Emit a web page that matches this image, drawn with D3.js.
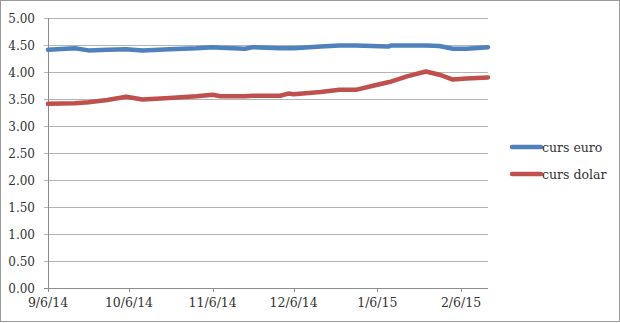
<!DOCTYPE html>
<html>
<head>
<meta charset="utf-8">
<script src="https://cdn.jsdelivr.net/npm/d3@7"></script>
<style>
  body { margin: 0; background: #fff; }
  svg text { font-family: "DejaVu Serif", serif; fill: #333; }
</style>
</head>
<body>
<div id="chart"></div>
<script>
// dates of the readings
var dates = ["2014-09-06", "2014-09-16", "2014-09-21", "2014-09-28", "2014-10-05", "2014-10-11",
  "2014-10-21", "2014-10-31", "2014-11-06", "2014-11-09", "2014-11-18", "2014-11-21",
  "2014-12-01", "2014-12-04", "2014-12-06", "2014-12-16", "2014-12-23", "2014-12-29",
  "2015-01-04", "2015-01-10", "2015-01-11", "2015-01-17", "2015-01-24", "2015-01-29",
  "2015-02-03", "2015-02-08", "2015-02-16"];

var cursEuro = [4.41, 4.44, 4.40, 4.41, 4.42, 4.40, 4.42, 4.44, 4.46, 4.45, 4.43, 4.46,
  4.44, 4.44, 4.44, 4.47, 4.49, 4.49, 4.48, 4.47, 4.49, 4.49, 4.49, 4.48,
  4.43, 4.43, 4.46];

var cursDolar = [3.41, 3.42, 3.44, 3.48, 3.54, 3.49, 3.52, 3.55, 3.58, 3.55, 3.55, 3.56,
  3.56, 3.60, 3.59, 3.63, 3.67, 3.67, 3.74, 3.81, 3.82, 3.92, 4.01, 3.95,
  3.86, 3.88, 3.90];

var xTicks = ["2014-09-06", "2014-10-06", "2014-11-06", "2014-12-06", "2015-01-06", "2015-02-06"];
var yTicks = [0, 0.5, 1, 1.5, 2, 2.5, 3, 3.5, 4, 4.5, 5];

var series = [
  { name: "curs euro", values: cursEuro, color: "#4f81bd" },
  { name: "curs dolar", values: cursDolar, color: "#c0504d" }
];

var width = 620, height = 323;
var parse = d3.timeParse("%Y-%m-%d");
var fmt = function(d) { return (d.getMonth() + 1) + "/" + d.getDate() + "/" + String(d.getFullYear()).slice(2); };

var x = d3.scaleTime()
  .domain([parse("2014-09-06"), parse("2015-02-16")])
  .range([48, 488]);
var y = d3.scaleLinear().domain([0, 5]).range([288, 18]);

var svg = d3.select("#chart").append("svg")
  .attr("width", width)
  .attr("height", height);

// outer frame
svg.append("rect")
  .attr("x", 0.5).attr("y", 0.5)
  .attr("width", width - 1).attr("height", height - 2)
  .attr("fill", "#fff")
  .attr("stroke", "#9a9a9a");

// gridlines
svg.append("g")
  .selectAll("line")
  .data(yTicks)
  .enter().append("line")
  .attr("x1", 44).attr("x2", 488)
  .attr("y1", function(d) { return Math.round(y(d)) + 0.5; })
  .attr("y2", function(d) { return Math.round(y(d)) + 0.5; })
  .attr("stroke", function(d) { return d === 0 ? "#8c8c8c" : "#b4b4b4"; })
  .attr("stroke-width", 1);

// y axis line
svg.append("line")
  .attr("x1", 48.5).attr("x2", 48.5)
  .attr("y1", y(5)).attr("y2", y(0) + 0.5)
  .attr("stroke", "#8c8c8c");

// y labels
svg.append("g")
  .selectAll("text")
  .data(yTicks)
  .enter().append("text")
  .attr("x", 35)
  .attr("y", function(d) { return y(d) + 5; })
  .attr("text-anchor", "end")
  .style("font-size", "12px")
  .text(function(d) { return d.toFixed(2); });

// x ticks + labels
var xg = svg.append("g");
xg.selectAll("line")
  .data(xTicks)
  .enter().append("line")
  .attr("x1", function(d) { return Math.round(x(parse(d))) + 0.5; })
  .attr("x2", function(d) { return Math.round(x(parse(d))) + 0.5; })
  .attr("y1", 288).attr("y2", 292)
  .attr("stroke", "#8c8c8c");

xg.selectAll("text")
  .data(xTicks)
  .enter().append("text")
  .attr("x", function(d) { return x(parse(d)); })
  .attr("y", 307)
  .attr("text-anchor", "middle")
  .style("font-size", "12.5px")
  .text(function(d) { return fmt(parse(d)); });

// lines
var line = d3.line()
  .x(function(d, i) { return x(parse(dates[i])); })
  .y(function(d) { return y(d); });

svg.append("g")
  .selectAll("path")
  .data(series)
  .enter().append("path")
  .attr("d", function(s) { return line(s.values); })
  .attr("fill", "none")
  .attr("stroke", function(s) { return s.color; })
  .attr("stroke-width", 4.5)
  .attr("stroke-linejoin", "round")
  .attr("stroke-linecap", "round");

// legend
var legend = svg.append("g")
  .selectAll("g")
  .data(series)
  .enter().append("g")
  .attr("transform", function(s, i) { return "translate(512," + (147 + i * 27) + ")"; });

legend.append("line")
  .attr("x1", 0).attr("x2", 29)
  .attr("stroke", function(s) { return s.color; })
  .attr("stroke-width", 4.5)
  .attr("stroke-linecap", "round");

legend.append("text")
  .attr("x", 30)
  .attr("y", 5)
  .style("font-size", "12.5px")
  .text(function(s) { return s.name; });
</script>
</body>
</html>
